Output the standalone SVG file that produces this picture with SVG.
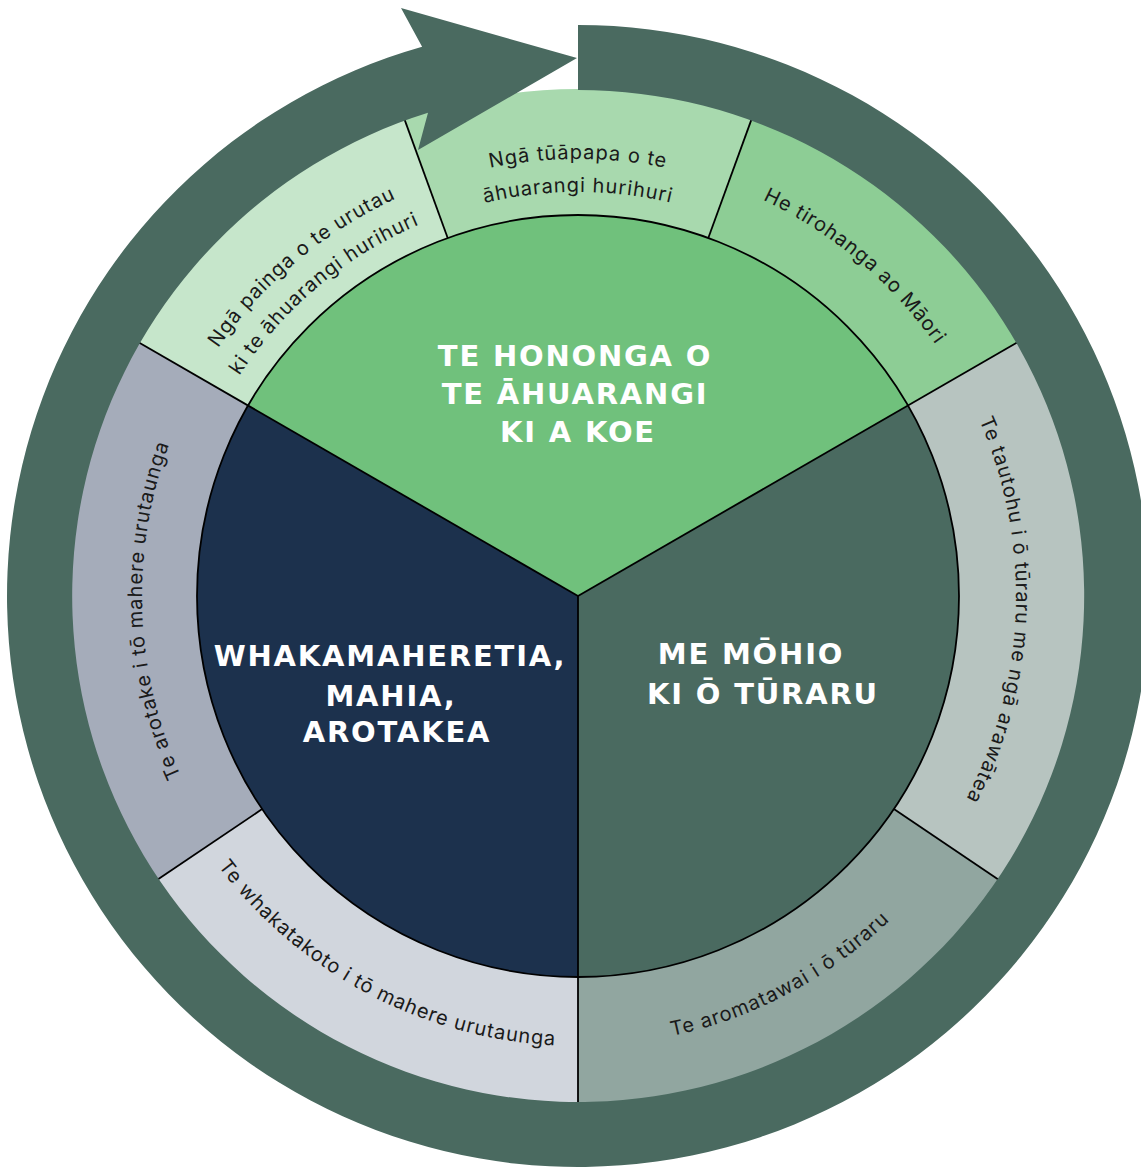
<svg xmlns="http://www.w3.org/2000/svg" xmlns:xlink="http://www.w3.org/1999/xlink" width="1141" height="1168" viewBox="0 0 1141 1168">
<style>
.lbl{font-family:"DejaVu Sans","Liberation Sans",Arial,sans-serif;font-weight:700;font-size:29px;fill:#ffffff;letter-spacing:1.8px;text-anchor:middle}
.seg{font-family:Inter,"Liberation Sans",sans-serif;font-size:20px;fill:#1a1a1a;letter-spacing:0.9px}
.dv{stroke:#000;stroke-width:1.8;fill:none}
</style>
<defs>
<path id="pTop1" d="M297.1,261.2 A437,437 0 0 1 858.9,261.2"/>
<path id="pTop2" d="M318.3,286.5 A404,404 0 0 1 837.7,286.5"/>
<path id="pTR" d="M578,159 A437,437 0 0 1 1008.4,520.1"/>
<path id="pTL1" d="M147.6,520.1 A437,437 0 0 1 578,159"/>
<path id="pTL2" d="M180.2,525.8 A404,404 0 0 1 578,192"/>
<path id="pR" d="M923.1,326.3 A438,438 0 0 1 903.5,889.1"/>
<path id="pL" d="M254,887.7 A436,436 0 0 1 234.4,327.6"/>
<path id="pBR" d="M484.4,1036.1 A450,450 0 0 0 995.2,764.6"/>
<path id="pBL" d="M160.8,764.6 A450,450 0 0 0 671.6,1036.1"/>
</defs>
<rect width="1141" height="1168" fill="#ffffff"/>

<g id="node-painga">
<path d="M138.9,342.5 A507,507 0 0 1 404.6,119.6 L447.7,238 A381,381 0 0 0 248.1,405.5 Z" fill="#c6e6cb"/>
<text class="seg"><textPath href="#pTL1" startOffset="50%" text-anchor="middle">Ngā painga o te urutau</textPath></text>
<text class="seg"><textPath href="#pTL2" startOffset="50%" text-anchor="middle">ki te āhuarangi hurihuri</textPath></text>
</g>
<g id="node-tuapapa">
<path d="M404.6,119.6 A507,507 0 0 1 751.4,119.6 L708.3,238 A381,381 0 0 0 447.7,238 Z" fill="#a8d9ae"/>
<text class="seg"><textPath href="#pTop1" startOffset="50%" text-anchor="middle">Ngā tūāpapa o te</textPath></text>
<text class="seg"><textPath href="#pTop2" startOffset="50%" text-anchor="middle">āhuarangi hurihuri</textPath></text>
</g>
<g id="node-tirohanga">
<path d="M751.4,119.6 A507,507 0 0 1 1017.1,342.5 L907.9,405.5 A381,381 0 0 0 708.3,238 Z" fill="#8dcd95"/>
<text class="seg"><textPath href="#pTR" startOffset="50%" text-anchor="middle">He tirohanga ao Māori</textPath></text>
</g>
<g id="node-tautohu">
<path d="M1017.1,342.5 A507,507 0 0 1 998.3,879.5 L893.9,809.1 A381,381 0 0 0 907.9,405.5 Z" fill="#b7c4c0"/>
<text class="seg"><textPath href="#pR" startOffset="50%" text-anchor="middle">Te tautohu i ō tūraru me ngā arawātea</textPath></text>
</g>
<g id="node-aromatawai">
<path d="M998.3,879.5 A507,507 0 0 1 578,1103 L578,977 A381,381 0 0 0 893.9,809.1 Z" fill="#91a6a0"/>
<text class="seg"><textPath href="#pBR" startOffset="50%" text-anchor="middle">Te aromatawai i ō tūraru</textPath></text>
</g>
<g id="node-whakatakoto">
<path d="M578,1103 A507,507 0 0 1 157.7,879.5 L262.1,809.1 A381,381 0 0 0 578,977 Z" fill="#d1d6dd"/>
<text class="seg"><textPath href="#pBL" startOffset="50%" text-anchor="middle">Te whakatakoto i tō mahere urutaunga</textPath></text>
</g>
<g id="node-arotake">
<path d="M157.7,879.5 A507,507 0 0 1 138.9,342.5 L248.1,405.5 A381,381 0 0 0 262.1,809.1 Z" fill="#a5acba"/>
<text class="seg"><textPath href="#pL" startOffset="50%" text-anchor="middle">Te arotake i tō mahere urutaunga</textPath></text>
</g>

<g id="node-hononga">
<path d="M578,596 L248.1,405.5 A381,381 0 0 1 907.9,405.5 Z" fill="#70c17c"/>
<text class="lbl" x="575" y="366">TE HONONGA O</text>
<text class="lbl" x="575" y="404">TE ĀHUARANGI</text>
<text class="lbl" x="578" y="442">KI A KOE</text>
</g>
<g id="node-mohio">
<path d="M578,596 L907.9,405.5 A381,381 0 0 1 578,977 Z" fill="#4a6a60"/>
<text class="lbl" x="751" y="664">ME MŌHIO</text>
<text class="lbl" x="763" y="704">KI Ō TŪRARU</text>
</g>
<g id="node-whakamahere">
<path d="M578,596 L578,977 A381,381 0 0 1 248.1,405.5 Z" fill="#1c314d"/>
<text class="lbl" x="390" y="666">WHAKAMAHERETIA,</text>
<text class="lbl" x="391" y="706">MAHIA,</text>
<text class="lbl" x="397" y="742">AROTAKEA</text>
</g>

<g id="dividers">
<circle cx="578" cy="596" r="381" class="dv" stroke-width="1.6"/>
<line class="dv" x1="578" y1="596" x2="138.9" y2="342.5"/>
<line class="dv" x1="447.7" y1="238" x2="404.6" y2="119.6"/>
<line class="dv" x1="708.3" y1="238" x2="751.4" y2="119.6"/>
<line class="dv" x1="578" y1="596" x2="1017.1" y2="342.5"/>
<line class="dv" x1="893.9" y1="809.1" x2="998.3" y2="879.5"/>
<line class="dv" x1="578" y1="596" x2="578" y2="1103"/>
<line class="dv" x1="262.1" y1="809.1" x2="157.7" y2="879.5"/>
</g>

<g id="connectors">
<path id="cycle-arrow" d="M578,25 A571,571 0 1 1 422.1,46.7 L401,8 L577,58 L418,150 L428,112.8 A506,506 0 1 0 578,90 Z" fill="#4a6a60"/>
</g>
</svg>
